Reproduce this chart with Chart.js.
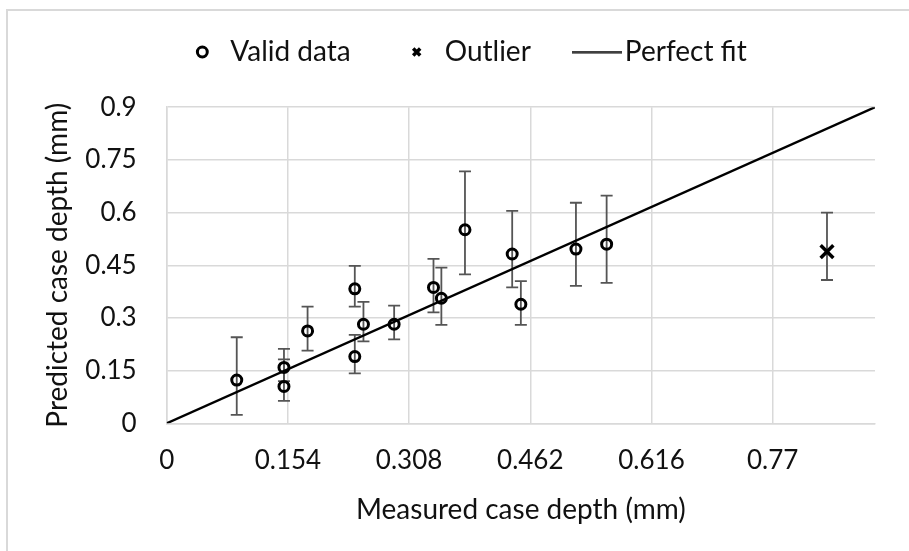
<!DOCTYPE html>
<html>
<head>
<meta charset="utf-8">
<title>Predicted vs measured case depth</title>
<script src="https://cdn.jsdelivr.net/npm/chart.js@4.4.1/dist/chart.umd.min.js"></script>
<style>
  html, body { margin: 0; padding: 0; background: #ffffff; }
  #wrap { position: relative; width: 909px; height: 551px; overflow: hidden; }
  #frame {
    position: absolute; left: 6px; top: 9px; width: 960px; height: 600px;
    border-left: 2px solid #d9d9d9; border-top: 2px solid #d9d9d9;
  }
  #depthChart { position: absolute; left: 0; top: 0; }
</style>
</head>
<body>
<div id="wrap">
  <div id="frame"></div>
  <canvas id="depthChart" width="909" height="551"></canvas>
</div>
<script>
// ==================== DATA ====================
// Valid data (measured x, predicted y, error bar low/high)
const validX = [0.089, 0.149, 0.149, 0.179, 0.239, 0.239, 0.250, 0.289, 0.339, 0.349, 0.379, 0.439, 0.450, 0.520, 0.559];
const validY = [0.123, 0.159, 0.105, 0.263, 0.383, 0.190, 0.282, 0.282, 0.387, 0.356, 0.551, 0.482, 0.339, 0.496, 0.510];
const validLow = [0.024, 0.120, 0.064, 0.207, 0.332, 0.142, 0.233, 0.239, 0.316, 0.280, 0.424, 0.387, 0.280, 0.391, 0.400];
const validHigh = [0.245, 0.212, 0.182, 0.332, 0.448, 0.252, 0.346, 0.335, 0.468, 0.443, 0.717, 0.605, 0.405, 0.628, 0.648];

// Outlier
const outlierX = [0.839];
const outlierY = [0.489];
const outlierLow = [0.408];
const outlierHigh = [0.600];

// Perfect fit line ends
const fitX = [0, 0.9];
const fitY = [0, 0.9];

// Axis ticks
const xTicks = [0, 0.154, 0.308, 0.462, 0.616, 0.77];
const yTicks = [0, 0.15, 0.3, 0.45, 0.6, 0.75, 0.9];

const FONT = "Lato";
const TEXT_COLOR = "#111111";
const GRID_COLOR = "#d9d9d9";

function toPoints(xs, ys) {
  return xs.map((x, i) => ({ x: x, y: ys[i] }));
}

// Small line image used as the legend swatch for "Perfect fit"
function makeLineSwatch() {
  const c = document.createElement("canvas");
  c.width = 50;
  c.height = 3;
  const g = c.getContext("2d");
  g.fillStyle = "#000000";
  g.fillRect(0, 0.5, 50, 2);
  return c;
}

// ==================== ERROR BARS ====================
const errorBarPlugin = {
  id: "errorBars",
  beforeDatasetsDraw(chart) {
    const ctx = chart.ctx;
    const xScale = chart.scales.x;
    const yScale = chart.scales.y;
    const cap = 6;
    ctx.save();
    ctx.strokeStyle = "#555555";
    ctx.lineWidth = 1.8;
    chart.data.datasets.forEach((ds) => {
      if (!ds.errLow) return;
      ds.data.forEach((p, i) => {
        const px = xScale.getPixelForValue(p.x);
        const top = yScale.getPixelForValue(ds.errHigh[i]);
        const bot = yScale.getPixelForValue(ds.errLow[i]);
        ctx.beginPath();
        ctx.moveTo(px, top);
        ctx.lineTo(px, bot);
        ctx.moveTo(px - cap, top);
        ctx.lineTo(px + cap, top);
        ctx.moveTo(px - cap, bot);
        ctx.lineTo(px + cap, bot);
        ctx.stroke();
      });
    });
    ctx.restore();
  },
};

// ==================== CHART ====================
document.addEventListener("DOMContentLoaded", function () {
  const ctx = document.getElementById("depthChart");

  new Chart(ctx, {
    type: "scatter",
    data: {
      datasets: [
        {
          label: "Valid data",
          data: toPoints(validX, validY),
          errLow: validLow,
          errHigh: validHigh,
          pointStyle: "circle",
          pointRadius: 5,
          pointBorderWidth: 3,
          borderColor: "#000000",
          backgroundColor: "rgba(0,0,0,0)",
        },
        {
          label: "Outlier",
          data: toPoints(outlierX, outlierY),
          errLow: outlierLow,
          errHigh: outlierHigh,
          pointStyle: "crossRot",
          pointRadius: 9,
          pointBorderWidth: 3.5,
          borderColor: "#000000",
          backgroundColor: "#000000",
        },
        {
          type: "line",
          label: "Perfect fit",
          data: toPoints(fitX, fitY),
          borderColor: "#000000",
          borderWidth: 2.4,
          pointRadius: 0,
          pointStyle: makeLineSwatch(),
          fill: false,
        },
      ],
    },
    options: {
      responsive: false,
      animation: false,
      devicePixelRatio: 1,
      layout: {
        padding: { left: 60, right: 34, top: -14, bottom: 0 },
      },
      plugins: {
        legend: {
          display: true,
          position: "top",
          labels: {
            usePointStyle: true,
            boxHeight: 7,
            padding: 52,
            color: TEXT_COLOR,
            font: { family: FONT, size: 28 },
          },
        },
        subtitle: {
          // empty spacer between legend and plot
          display: true,
          text: "",
          weight: 500,
          font: { size: 1 },
          padding: { top: 0, bottom: 30 },
        },
        tooltip: { enabled: false },
      },
      scales: {
        x: {
          type: "linear",
          min: 0,
          max: 0.9,
          afterBuildTicks: (axis) => {
            axis.ticks = xTicks.map((v) => ({ value: v }));
          },
          afterFit: (axis) => {
            axis.height = 127.7;
          },
          ticks: {
            color: TEXT_COLOR,
            padding: 22,
            font: { family: FONT, size: 26 },
            callback: (value) => String(value),
          },
          grid: {
            color: GRID_COLOR,
            lineWidth: 1.5,
            drawTicks: false,
          },
          border: { color: GRID_COLOR, width: 1.5 },
          title: {
            display: true,
            text: "Measured case depth (mm)",
            color: TEXT_COLOR,
            font: { family: FONT, size: 28 },
            padding: { top: 0, bottom: 24 },
          },
        },
        y: {
          type: "linear",
          min: 0,
          max: 0.9,
          afterBuildTicks: (axis) => {
            axis.ticks = yTicks.map((v) => ({ value: v }));
          },
          afterFit: (axis) => {
            axis.width = 106.7;
          },
          ticks: {
            color: TEXT_COLOR,
            padding: 30,
            font: { family: FONT, size: 26 },
            callback: (value) => String(value),
          },
          grid: {
            color: GRID_COLOR,
            lineWidth: 1.5,
            drawTicks: false,
          },
          border: { color: GRID_COLOR, width: 1.5 },
          title: {
            display: true,
            text: "Predicted case depth (mm)",
            color: TEXT_COLOR,
            font: { family: FONT, size: 28 },
            padding: { top: -19, bottom: 0 },
          },
        },
      },
    },
    plugins: [errorBarPlugin],
  });
});
</script>
</body>
</html>
